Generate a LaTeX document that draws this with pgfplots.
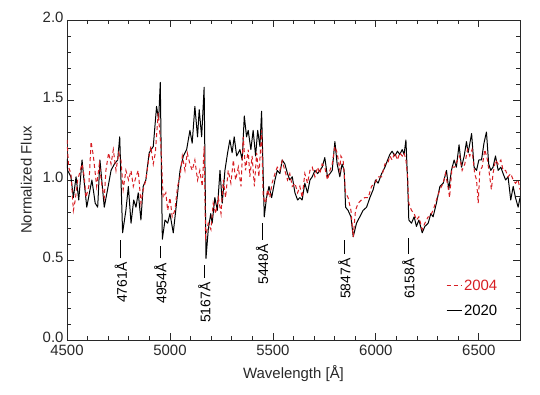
\documentclass[border=0pt]{standalone}
\usepackage{pgfplots}
\pgfplotsset{compat=1.18}
\usepackage{pgfplotstable}
\usepackage{fontspec}
\setmainfont{Liberation Sans}
\definecolor{specred}{RGB}{215,30,35}
\definecolor{axgray}{RGB}{40,40,40}

\pgfplotstableread{
x y
4500 1.13
4503 1.06
4519 1.02
4531 0.89
4544 1.02
4557 0.875
4573 1.125
4584 0.98
4596 0.83
4612 0.94
4621 1.0
4637 0.855
4649 0.83
4660 1.125
4673 0.94
4681 0.83
4697 0.94
4714 1.06
4730 1.10
4746 1.125
4756 1.27
4770 0.67
4786 0.81
4798 0.96
4811 0.73
4824 0.875
4835 0.83
4846 0.92
4859 0.75
4870 0.96
4883 1.0
4899 1.17
4919 1.21
4935 1.46
4945 1.375
4953 1.61
4963 0.63
4976 0.75
4989 0.73
5000 0.79
5016 0.67
5032 0.855
5049 1.06
5065 1.15
5081 1.19
5097 1.31
5108 1.23
5121 1.46
5134 1.27
5142 1.44
5154 1.27
5166 1.58
5175 0.51
5186 0.69
5198 0.79
5205 0.73
5218 0.89
5230 0.81
5243 1.06
5254 0.855
5267 1.06
5280 1.17
5291 1.25
5302 1.17
5312 1.27
5324 1.15
5340 1.19
5351 1.125
5361 1.40
5372 1.27
5380 1.31
5393 1.19
5404 1.31
5416 1.15
5426 1.31
5437 1.21
5445 1.43
5458 0.77
5469 0.89
5481 0.96
5494 0.89
5510 1.0
5521 1.06
5534 1.04
5545 1.125
5558 1.10
5571 1.04
5582 1.0
5594 1.02
5607 0.92
5620 0.875
5631 0.89
5642 0.875
5655 0.98
5668 0.92
5680 1.0
5691 1.02
5704 1.06
5717 1.04
5728 1.06
5739 1.08
5752 1.14
5765 1.02
5777 1.04
5788 1.06
5801 1.24
5812 1.10
5825 1.02
5836 1.10
5846 1.06
5853 0.83
5865 0.81
5879 0.77
5890 0.645
5906 0.73
5922 0.77
5938 0.81
5955 0.83
5971 0.89
5987 0.94
5998 1.0
6011 0.98
6028 1.04
6044 1.08
6057 1.125
6068 1.16
6079 1.18
6092 1.15
6105 1.18
6116 1.16
6128 1.19
6137 1.16
6146 1.25
6154 1.0
6160 0.75
6173 0.73
6186 0.77
6197 0.71
6209 0.75
6225 0.67
6238 0.71
6254 0.73
6267 0.79
6278 0.77
6294 0.855
6311 0.96
6327 0.98
6343 1.06
6354 0.94
6367 1.06
6380 1.125
6391 1.08
6404 1.22
6416 1.08
6429 1.15
6440 1.24
6448 1.17
6465 1.29
6477 1.08
6489 1.06
6500 1.125
6513 1.125
6525 1.23
6537 1.30
6548 1.10
6558 1.06
6569 1.08
6581 1.15
6594 1.06
6607 1.08
6618 1.04
6630 1.0
6642 1.02
6655 0.875
6667 0.96
6678 0.89
6691 0.83
6700 0.89
}\twentytwenty

\pgfplotstableread{
x y
4500 1.25
4508 1.08
4519 1.04
4531 0.81
4540 0.875
4552 1.0
4573 1.10
4584 1.02
4592 0.89
4606 0.96
4617 1.24
4628 1.15
4644 0.96
4657 1.10
4670 0.96
4681 0.89
4689 1.06
4702 1.17
4714 1.10
4725 1.19
4738 1.06
4751 1.17
4762 1.125
4773 0.94
4786 1.06
4799 1.0
4811 1.06
4822 0.96
4835 1.02
4846 1.06
4859 0.855
4870 0.94
4883 1.0
4896 1.125
4907 1.21
4919 1.10
4929 1.17
4943 1.42
4956 1.21
4967 0.89
4980 0.92
4989 0.81
5000 0.89
5011 0.77
5024 0.81
5037 0.96
5049 1.02
5060 1.15
5073 1.06
5084 1.17
5097 1.10
5108 1.06
5121 1.125
5134 1.0
5145 1.06
5157 0.96
5166 1.21
5173 0.645
5186 0.73
5199 0.69
5210 0.855
5222 0.79
5235 0.89
5248 0.79
5259 1.0
5270 0.89
5283 1.06
5296 0.98
5308 1.125
5319 1.0
5332 1.08
5345 0.96
5356 1.27
5367 1.06
5380 1.19
5388 1.02
5399 1.15
5410 0.96
5421 1.17
5432 1.02
5445 1.31
5453 0.89
5464 0.855
5474 0.94
5485 0.89
5496 0.98
5510 1.04
5521 1.08
5534 1.06
5545 1.12
5558 1.06
5571 1.0
5582 1.04
5594 0.96
5607 0.98
5620 0.92
5631 0.96
5642 0.89
5655 1.04
5668 0.98
5680 1.06
5691 1.08
5704 1.02
5717 1.08
5728 1.04
5739 1.10
5752 1.08
5765 1.0
5777 1.06
5788 1.10
5801 1.21
5812 1.17
5825 1.06
5830 1.15
5841 1.125
5853 0.92
5865 0.89
5879 0.81
5890 0.645
5901 0.81
5914 0.855
5930 0.875
5946 0.89
5963 0.89
5979 0.96
5995 0.98
6011 1.02
6028 1.02
6044 1.10
6057 1.10
6068 1.15
6079 1.125
6092 1.17
6105 1.125
6116 1.17
6128 1.15
6137 1.17
6146 1.125
6154 1.02
6160 0.855
6173 0.81
6186 0.79
6197 0.75
6209 0.77
6225 0.69
6238 0.73
6254 0.77
6262 0.77
6278 0.81
6294 0.875
6311 0.94
6327 0.98
6338 1.04
6350 0.96
6358 0.89
6370 1.08
6383 1.08
6396 1.125
6407 1.15
6419 1.06
6432 1.10
6445 1.19
6456 1.15
6467 1.19
6480 1.04
6489 1.0
6497 0.855
6505 1.06
6516 1.08
6529 1.19
6542 1.125
6553 1.02
6561 0.94
6569 1.04
6581 1.125
6594 1.10
6607 1.125
6618 1.06
6630 1.06
6642 1.02
6655 1.04
6667 1.0
6678 0.98
6691 1.0
6700 0.94
}\twothousandfour

\begin{document}
\begin{tikzpicture}
\useasboundingbox (-67bp,-55bp) rectangle (473bp,340bp);
\begin{axis}[
  scale only axis,
  width=453bp, height=320bp,
  xmin=4500, xmax=6700, ymin=0, ymax=2,
  xtick={4500,5000,5500,6000,6500},
  ytick={0,0.5,1,1.5,2},
  minor x tick num=4,
  minor y tick num=4,
  tick align=inside,
  xtick pos=both, ytick pos=both,
  major tick length=7bp,
  minor tick length=4bp,
  axis line style={axgray, line width=0.8bp},
  every tick/.style={axgray, line width=0.8bp},
  tick label style={font=\fontsize{15}{17}\selectfont, text=axgray},
  label style={font=\fontsize{15}{17}\selectfont, text=axgray},
  /pgf/number format/assume math mode=true,
  xticklabel style={/pgf/number format/1000 sep={}, yshift=-2bp},
  yticklabel style={/pgf/number format/fixed, /pgf/number format/fixed zerofill, /pgf/number format/precision=1, yshift=3bp},
  xlabel={Wavelength [Å]},
  ylabel={Normalized Flux},
  xlabel style={yshift=-3bp},
  ylabel style={yshift=4bp},
  reverse legend,
  legend style={at={(axis cs:6340,0.39)}, anchor=north west, draw=none, fill=none,
    font=\fontsize{15}{17}\selectfont, row sep=9bp, inner sep=0pt,
    legend cell align=left},
  legend image code/.code={\draw[#1] (0bp,0bp) -- (15bp,0bp);},
  clip=true,
]
\addplot[black, line width=1bp, line join=round] table[x=x,y=y] {\twentytwenty};
\addlegendentry[text=black]{2020}
\addplot[specred, line width=1bp, dash pattern=on 4bp off 3bp] table[x=x,y=y] {\twothousandfour};
\addlegendentry[text=specred]{2004}

\addplot[black, line width=0.9bp, forget plot] coordinates {(4761,0.51) (4761,0.625)};
\addplot[black, line width=0.9bp, forget plot] coordinates {(4954,0.51) (4954,0.59)};
\addplot[black, line width=0.9bp, forget plot] coordinates {(5167,0.39) (5167,0.47)};
\addplot[black, line width=0.9bp, forget plot] coordinates {(5448,0.625) (5448,0.73)};
\addplot[black, line width=0.9bp, forget plot] coordinates {(5847,0.54) (5847,0.625)};
\addplot[black, line width=0.9bp, forget plot] coordinates {(6158,0.54) (6158,0.64)};

\node[rotate=90, anchor=east, inner sep=0pt, font=\fontsize{14}{16}\selectfont] at (axis cs:4761,0.485) {4761Å};
\node[rotate=90, anchor=east, inner sep=0pt, font=\fontsize{14}{16}\selectfont] at (axis cs:4954,0.48) {4954Å};
\node[rotate=90, anchor=east, inner sep=0pt, font=\fontsize{14}{16}\selectfont] at (axis cs:5167,0.36) {5167Å};
\node[rotate=90, anchor=east, inner sep=0pt, font=\fontsize{14}{16}\selectfont] at (axis cs:5448,0.60) {5448Å};
\node[rotate=90, anchor=east, inner sep=0pt, font=\fontsize{14}{16}\selectfont] at (axis cs:5847,0.51) {5847Å};
\node[rotate=90, anchor=east, inner sep=0pt, font=\fontsize{14}{16}\selectfont] at (axis cs:6158,0.51) {6158Å};
\end{axis}
\end{tikzpicture}
\end{document}
